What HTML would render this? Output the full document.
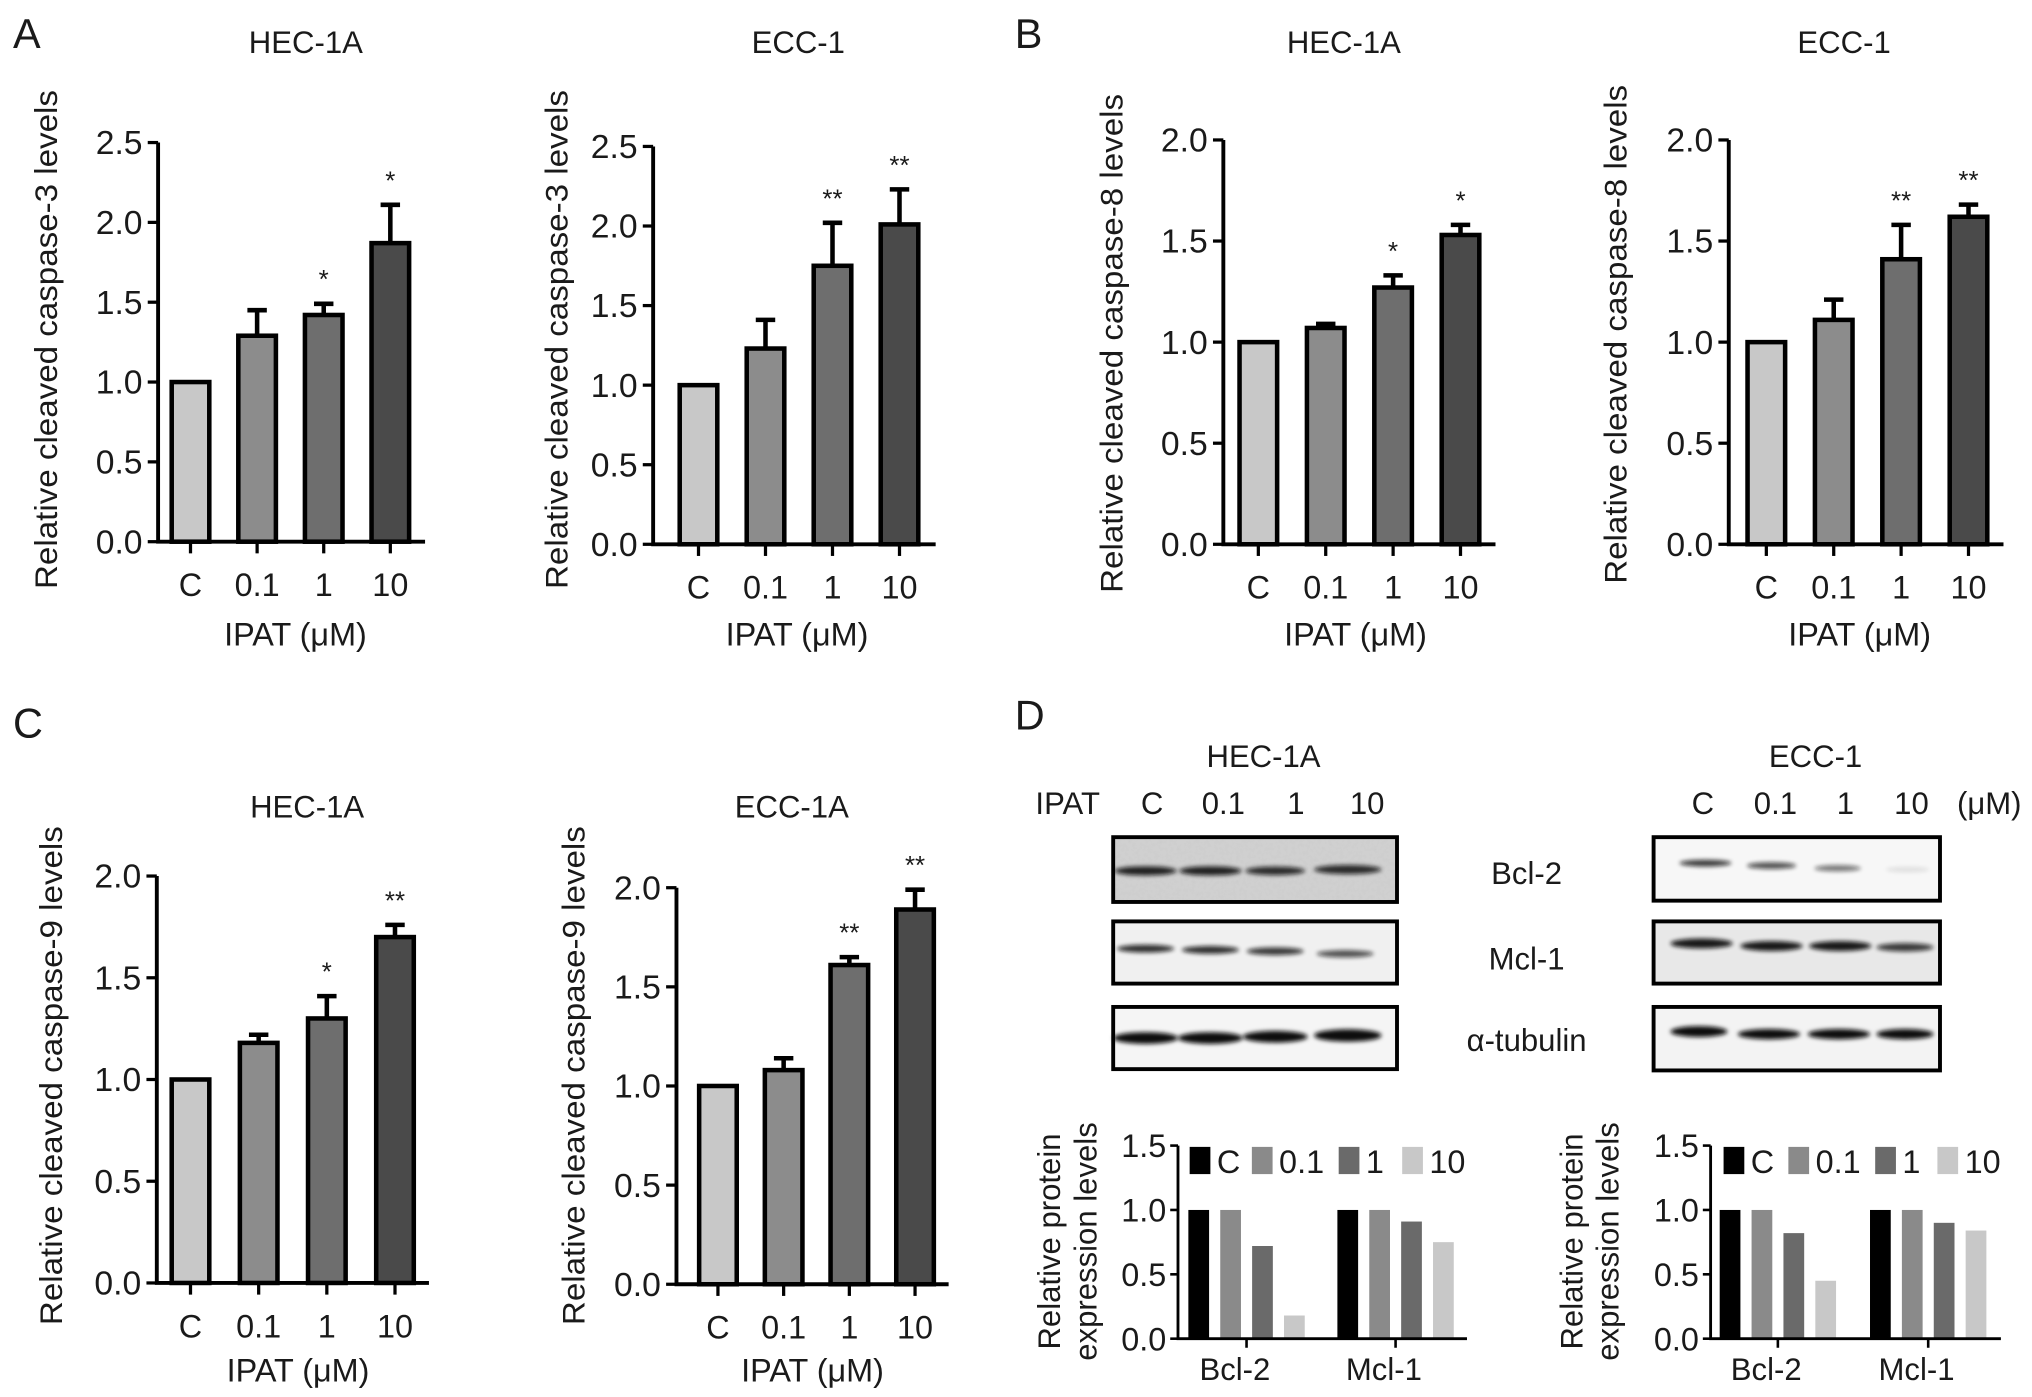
<!DOCTYPE html>
<html><head><meta charset="utf-8">
<style>
html,body{margin:0;padding:0;background:#fff;}
svg{display:block;}
text{font-family:"Liberation Sans",Arial,sans-serif;fill:#1a1a1a;}
</style></head>
<body>
<svg id="fig" width="2032" height="1397" viewBox="0 0 1568 1078" xmlns="http://www.w3.org/2000/svg">
<defs>
<filter id="blur" x="-20%" y="-100%" width="140%" height="300%"><feGaussianBlur stdDeviation="1.6"/></filter>
<filter id="noise" x="0" y="0" width="100%" height="100%">
<feTurbulence type="fractalNoise" baseFrequency="0.35" numOctaves="2" seed="4" result="n"/>
<feColorMatrix type="matrix" values="0 0 0 0 0.6  0 0 0 0 0.6  0 0 0 0 0.6  0 0 0 -2 1.3"/>
</filter>
</defs>
<g id="root"></g>
</svg>
<script>
// ---- data ----
const categories = ["C", "0.1", "1", "10"];
const casp3Hec = [1.0, 1.29, 1.42, 1.87];
const casp3HecErr = [0, 0.16, 0.07, 0.24];
const casp3HecSig = ["", "", "*", "*"];
const casp3Ecc = [1.0, 1.23, 1.75, 2.01];
const casp3EccErr = [0, 0.18, 0.27, 0.22];
const casp3EccSig = ["", "", "**", "**"];
const casp8Hec = [1.0, 1.07, 1.27, 1.53];
const casp8HecErr = [0, 0.02, 0.06, 0.05];
const casp8HecSig = ["", "", "*", "*"];
const casp8Ecc = [1.0, 1.11, 1.41, 1.62];
const casp8EccErr = [0, 0.10, 0.17, 0.06];
const casp8EccSig = ["", "", "**", "**"];
const casp9Hec = [1.0, 1.18, 1.30, 1.70];
const casp9HecErr = [0, 0.04, 0.11, 0.06];
const casp9HecSig = ["", "", "*", "**"];
const casp9Ecc = [1.0, 1.08, 1.61, 1.89];
const casp9EccErr = [0, 0.06, 0.04, 0.10];
const casp9EccSig = ["", "", "**", "**"];
const ticks25 = ["0.0", "0.5", "1.0", "1.5", "2.0", "2.5"];
const ticks20 = ["0.0", "0.5", "1.0", "1.5", "2.0"];
const ticks15 = ["0.0", "0.5", "1.0", "1.5"];
const proteins = ["Bcl-2", "Mcl-1"];
const protHecBcl2 = [1.0, 1.0, 0.72, 0.18];
const protHecMcl1 = [1.0, 1.0, 0.91, 0.75];
const protEccBcl2 = [1.0, 1.0, 0.82, 0.45];
const protEccMcl1 = [1.0, 1.0, 0.90, 0.84];

const NS = "http://www.w3.org/2000/svg";
const root = document.getElementById('root');
function mk(tag, attrs, parent, txt) {
  const e = document.createElementNS(NS, tag);
  for (const k in attrs) e.setAttribute(k, attrs[k]);
  if (txt !== undefined) e.textContent = txt;
  (parent || root).appendChild(e);
  return e;
}
const barFills = ["#c8c8c8", "#8c8c8c", "#6e6e6e", "#4a4a4a"];

function barChart(o) {
  const g = mk('g', {});
  
  
  const tickVals = o.ticks.map(Number);
  const ymax = tickVals[tickVals.length - 1];
  const yS = v => o.y0 - (o.y0 - o.yTop) * v / ymax;
  const xS = i => o.x0 + i * o.step;
  const t = mk('text', {x: o.titleX, y: o.titleY, 'font-size': 24, 'text-anchor': 'middle'}, g, o.title);
  
  
  const yt = mk('text', {x: 0, y: 0, 'font-size': 24, 'text-anchor': 'middle', 'textLength': 385, 'lengthAdjust': 'spacingAndGlyphs', transform: `translate(${o.ytX},${o.ytY}) rotate(-90)`}, g, o.yTitle);
  
  
  o.values.forEach((v, i) => {
    const cx = xS(i), w = 29;
    const r = mk('rect', {x: cx - w / 2, y: yS(v), width: w, height: o.y0 - yS(v), fill: barFills[i], stroke: '#000', 'stroke-width': 3.5}, g);
    
    
    const e = o.errs[i];
    if (e > 0) {
      const top = yS(v + e);
      const el = mk('path', {d: `M${cx} ${yS(v)}V${top}M${cx - 7.5} ${top}H${cx + 7.5}`, stroke: '#000', 'stroke-width': 3.5, fill: 'none'}, g);
      
      
    }
    if (o.sig[i]) {
      const s = mk('text', {x: cx, y: yS(v + e) - 12, 'font-size': 20, 'text-anchor': 'middle'}, g, o.sig[i]);
      
      
    }
    const tk = mk('line', {x1: cx, x2: cx, y1: o.y0, y2: o.y0 + 9, stroke: '#000', 'stroke-width': 2.5}, g);
    
    
    const lb = mk('text', {x: cx, y: o.y0 + 42, 'font-size': 25, 'text-anchor': 'middle'}, g, categories[i]);
    
    
  });
  const ax = mk('path', {d: `M${o.axisX} ${o.yTop}V${o.y0}H${o.xEnd}`, stroke: '#000', 'stroke-width': 3, fill: 'none'}, g);
  
  
  o.ticks.forEach((lab, j) => {
    const y = yS(tickVals[j]);
    const tk = mk('line', {x1: o.axisX - 8, x2: o.axisX, y1: y, y2: y, stroke: '#000', 'stroke-width': 2.5}, g);
    
    
    const tl = mk('text', {x: o.axisX - 12, y: y + 9, 'font-size': 26, 'text-anchor': 'end'}, g, lab);
    
    
  });
  const xt = mk('text', {x: o.xtX, y: o.xtY, 'font-size': 25, 'text-anchor': 'middle'}, g, 'IPAT (μM)');
  
  
}

function panelLabel(txt, x, y) {
  const e = mk('text', {x: x, y: y, 'font-size': 32}, root, txt);
  
  
}
panelLabel('A', 10, 37);
panelLabel('B', 783, 37);
panelLabel('C', 10, 569);
panelLabel('D', 783, 563);

barChart({name: 'chart-a-hec1a', title: 'HEC-1A', titleX: 236, titleY: 41, ytX: 44, ytY: 262, yTitle: 'Relative cleaved caspase-3 levels',
  values: casp3Hec, errs: casp3HecErr, sig: casp3HecSig, ticks: ticks25, axisX: 122, y0: 418, yTop: 110, x0: 147, step: 51.4, xEnd: 328, xtX: 228, xtY: 498});
barChart({name: 'chart-a-ecc1', title: 'ECC-1', titleX: 616, titleY: 41, ytX: 438, ytY: 262, yTitle: 'Relative cleaved caspase-3 levels',
  values: casp3Ecc, errs: casp3EccErr, sig: casp3EccSig, ticks: ticks25, axisX: 504, y0: 420, yTop: 113, x0: 539, step: 51.7, xEnd: 722, xtX: 615, xtY: 498});
barChart({name: 'chart-b-hec1a', title: 'HEC-1A', titleX: 1037, titleY: 41, ytX: 866, ytY: 265, yTitle: 'Relative cleaved caspase-8 levels',
  values: casp8Hec, errs: casp8HecErr, sig: casp8HecSig, ticks: ticks20, axisX: 944, y0: 420, yTop: 108, x0: 971, step: 52, xEnd: 1154, xtX: 1046, xtY: 498});
barChart({name: 'chart-b-ecc1', title: 'ECC-1', titleX: 1423, titleY: 41, ytX: 1255, ytY: 258, yTitle: 'Relative cleaved caspase-8 levels',
  values: casp8Ecc, errs: casp8EccErr, sig: casp8EccSig, ticks: ticks20, axisX: 1334, y0: 420, yTop: 108, x0: 1363, step: 52, xEnd: 1546, xtX: 1435, xtY: 498});
barChart({name: 'chart-c-hec1a', title: 'HEC-1A', titleX: 237, titleY: 631, ytX: 48, ytY: 830, yTitle: 'Relative cleaved caspase-9 levels',
  values: casp9Hec, errs: casp9HecErr, sig: casp9HecSig, ticks: ticks20, axisX: 121, y0: 990, yTop: 676, x0: 147, step: 52.6, xEnd: 331, xtX: 230, xtY: 1066});
barChart({name: 'chart-c-ecc1a', title: 'ECC-1A', titleX: 611, titleY: 631, ytX: 451, ytY: 830, yTitle: 'Relative cleaved caspase-9 levels',
  values: casp9Ecc, errs: casp9EccErr, sig: casp9EccSig, ticks: ticks20, axisX: 522, y0: 991, yTop: 685, x0: 554, step: 50.7, xEnd: 732, xtX: 627, xtY: 1066});

function txt(s, x, y, size, anchor, name) {
  const e = mk('text', {x: x, y: y, 'font-size': size, 'text-anchor': anchor || 'middle'}, root, s);
  
  
  return e;
}
txt('HEC-1A', 975, 592, 24, 'middle', 'blot-title-hec1a');
txt('ECC-1', 1401, 592, 24, 'middle', 'blot-title-ecc1');
txt('IPAT', 799, 628, 24, 'start', 'ipat-label');
const laneLabelsL = [889, 944, 1000, 1055];
const laneLabelsR = [1314, 1370, 1424, 1475];
categories.forEach((c, i) => {
  txt(c, laneLabelsL[i], 628, 24, 'middle', 'lane-label');
  txt(c, laneLabelsR[i], 628, 24, 'middle', 'lane-label');
});
txt('(μM)', 1535, 628, 24, 'middle', 'unit-label');
txt('Bcl-2', 1178, 682, 24, 'middle', 'blot-label-bcl2');
txt('Mcl-1', 1178, 748, 24, 'middle', 'blot-label-mcl1');
txt('α-tubulin', 1178, 811, 24, 'middle', 'blot-label-tubulin');

function blot(name, x, y, w, h, bg, noisy, bands) {
  const g = mk('g', {});
  
  
  mk('rect', {x: x, y: y, width: w, height: h, fill: bg}, g);
  if (noisy) mk('rect', {x: x, y: y, width: w, height: h, fill: '#fff', filter: 'url(#noise)', opacity: 0.8}, g);
  bands.forEach(b => {
    const e = mk('ellipse', {cx: b[0], cy: b[1], rx: b[2], ry: b[3], fill: '#111', opacity: b[4], filter: 'url(#blur)'}, g);
    
    
  });
  mk('rect', {x: x, y: y, width: w, height: h, fill: 'none', stroke: '#000', 'stroke-width': 3}, g);
}
blot('blot-hec-bcl2', 859, 646, 219, 50, '#d0d0d0', true, [[884,672,24,3.5,0.9],[934,672,24,3.5,0.9],[984,672,23,3.3,0.85],[1040,671,26,3.5,0.85]]);
blot('blot-hec-mcl1', 859, 711, 219, 48, '#f0f0f0', false, [[884,732,22,3,0.85],[934,733,22,3,0.85],[984,734,22,3,0.8],[1038,736,22,2.8,0.7]]);
blot('blot-hec-tubulin', 859, 777, 219, 48, '#f5f5f5', false, [[884,801,25,4.5,1],[934,801,25,4.5,1],[984,800,25,4.5,1],[1040,799,26,4.8,1]]);
blot('blot-ecc-bcl2', 1276, 646, 221, 49, '#f7f7f7', false, [[1316,666,20,2.6,0.8],[1367,668,19,2.6,0.7],[1418,670,18,2.4,0.55],[1472,671,17,2,0.1]]);
blot('blot-ecc-mcl1', 1276, 711, 221, 48, '#e8e8e8', false, [[1313,728,24,3.8,0.95],[1367,730,24,3.8,0.95],[1420,730,24,3.8,0.95],[1470,731,22,3.2,0.8]]);
blot('blot-ecc-tubulin', 1276, 777, 221, 49, '#f3f3f3', false, [[1311,796,22,4.2,1],[1365,798,24,4,1],[1419,798,24,4,1],[1470,798,22,4,1]]);

const protFills = ["#000000", "#8a8a8a", "#6a6a6a", "#c8c8c8"];
function protChart(o) {
  const g = mk('g', {});
  
  
  const tickVals = ticks15.map(Number);
  const ymax = tickVals[tickVals.length - 1];
  const yS = v => o.y0 - (o.y0 - o.yTop) * v / ymax;
  const groupVals = [o.bcl2, o.mcl1];
  groupVals.forEach((vals, gi) => {
    const gx = o.g0 + gi * o.gStep;
    vals.forEach((v, i) => {
      const r = mk('rect', {x: gx + i * 24.6, y: yS(v), width: 16, height: o.y0 - yS(v), fill: protFills[i]}, g);
      
      
    });
    const cx = gx + 1.5 * 24.6 + 8;
    const tk = mk('line', {x1: cx, x2: cx, y1: o.y0, y2: o.y0 + 7, stroke: '#000', 'stroke-width': 2}, g);
    
    
    const l = mk('text', {x: cx - 9, y: o.y0 + 32, 'font-size': 24, 'text-anchor': 'middle'}, g, proteins[gi]);
    
    
  });
  const ax = mk('path', {d: `M${o.axisX} ${o.yTop}V${o.y0}H${o.xEnd}`, stroke: '#000', 'stroke-width': 2.2, fill: 'none'}, g);
  
  
  ticks15.forEach((lab, j) => {
    const y = yS(tickVals[j]);
    const tk = mk('line', {x1: o.axisX - 6, x2: o.axisX, y1: y, y2: y, stroke: '#000', 'stroke-width': 2}, g);
    
    
    const tl = mk('text', {x: o.axisX - 9, y: y + 9, 'font-size': 25, 'text-anchor': 'end'}, g, lab);
    
    
  });
  const yt = mk('text', {x: 0, y: 0, 'font-size': 24, 'text-anchor': 'middle', transform: `translate(${o.ytX},${o.ytY}) rotate(-90)`}, g);
  
  
  mk('tspan', {x: 0, dy: 0}, yt, 'Relative protein');
  mk('tspan', {x: 0, dy: 28}, yt, 'expression levels');
  const lg = mk('g', {}, g);
  
  
  categories.forEach((c, i) => {
    const e = mk('rect', {x: o.legX[i], y: 885, width: 16, height: 21, fill: protFills[i]}, lg);
    
    
    const t = mk('text', {x: o.legX[i] + 21, y: 905, 'font-size': 25}, lg, c);
    
    
  });
}
protChart({name: 'chart-d-hec1a', bcl2: protHecBcl2, mcl1: protHecMcl1, axisX: 909, y0: 1033, yTop: 884, g0: 917, gStep: 115, xEnd: 1132,
  ytX: 818, ytY: 958, legX: [918, 966, 1033, 1082]});
protChart({name: 'chart-d-ecc1', bcl2: protEccBcl2, mcl1: protEccMcl1, axisX: 1320, y0: 1033, yTop: 884, g0: 1327, gStep: 116, xEnd: 1544,
  ytX: 1221, ytY: 958, legX: [1330, 1380, 1447, 1495]});
</script>
</body></html>
